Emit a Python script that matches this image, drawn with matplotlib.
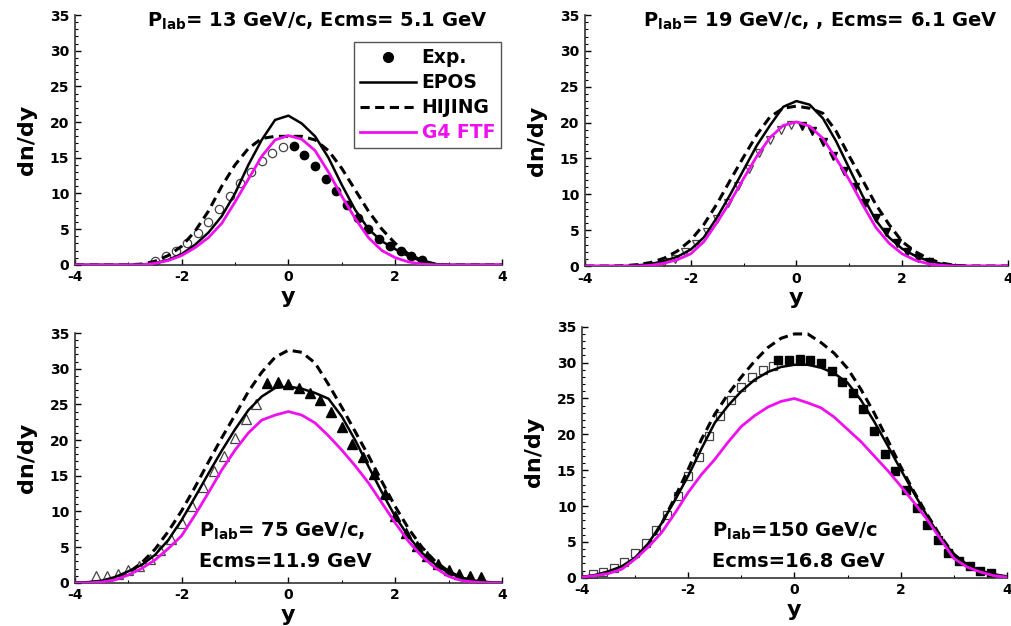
import numpy as np
import matplotlib
matplotlib.use("Agg")
import matplotlib.pyplot as plt
from matplotlib.ticker import MultipleLocator
from matplotlib.lines import Line2D

plt.rcParams['font.family'] = ['DejaVu Sans']
plt.rcParams['font.weight'] = 'bold'
plt.rcParams['mathtext.fontset'] = 'custom'
plt.rcParams['mathtext.rm'] = 'DejaVu Sans:bold'
plt.rcParams['mathtext.bf'] = 'DejaVu Sans:bold'
plt.rcParams['axes.unicode_minus'] = False

### model curves, rapidity grid
y_grid = [-4.0, -3.75, -3.5, -3.25, -3.0, -2.75, -2.5, -2.25, -2.0, -1.75, -1.5, -1.25, -1.0,
          -0.75, -0.5, -0.25, 0.0, 0.25, 0.5, 0.75, 1.0, 1.25, 1.5, 1.75, 2.0, 2.25, 2.5,
          2.75, 3.0, 3.25, 3.5, 3.75, 4.0]

# Plab = 13 GeV/c
epos_13 = [0, 0, 0, 0, 0, 0.05, 0.2, 0.7, 1.5, 2.8, 4.5, 6.8, 10.0, 14.0, 17.5, 20.3, 20.9,
           19.8, 18.0, 15.0, 11.2, 7.7, 5.0, 3.3, 2.2, 1.2, 0.5, 0.1, 0, 0, 0, 0, 0]
hijing_13 = [0, 0, 0, 0, 0, 0.1, 0.5, 1.3, 2.6, 4.7, 7.5, 11.0, 14.0, 16.3, 17.7, 18.0, 18.0,
             18.0, 17.5, 16.0, 13.5, 10.5, 7.5, 5.0, 3.0, 1.5, 0.6, 0.1, 0, 0, 0, 0, 0]
g4_13 = [0, 0, 0, 0, 0, 0, 0.2, 0.6, 1.3, 2.4, 3.8, 5.8, 8.8, 12.0, 15.2, 17.5, 18.1,
         17.6, 16.0, 13.0, 9.6, 6.5, 3.8, 2.0, 1.0, 0.4, 0.1, 0, 0, 0, 0, 0, 0]
exp_13_yneg = [-0.1, -0.3, -0.5, -0.7, -0.9, -1.1, -1.3, -1.5, -1.7, -1.9, -2.1, -2.3, -2.5]
exp_13_neg = [16.5, 15.7, 14.5, 13.0, 11.5, 9.7, 7.8, 6.0, 4.4, 3.1, 2.0, 1.2, 0.6]
exp_13_ypos = [0.1, 0.3, 0.5, 0.7, 0.9, 1.1, 1.3, 1.5, 1.7, 1.9, 2.1, 2.3, 2.5]
exp_13_pos = [16.6, 15.4, 13.9, 12.0, 10.3, 8.4, 6.6, 5.0, 3.6, 2.6, 2.0, 1.3, 0.7]

# Plab = 19 GeV/c
epos_19 = [0, 0, 0, 0, 0.1, 0.3, 0.7, 1.3, 2.3, 4.0, 6.8, 10.0, 13.4, 16.8, 19.6, 22.2, 23.0,
           22.5, 20.6, 17.4, 13.6, 9.8, 6.4, 4.0, 2.4, 1.4, 0.7, 0.3, 0.1, 0, 0, 0, 0]
hijing_19 = [0, 0, 0, 0.05, 0.2, 0.5, 1.1, 2.1, 3.6, 5.8, 8.7, 12.0, 15.2, 18.3, 20.8, 22.0, 22.3,
             22.0, 21.3, 18.8, 15.3, 12.0, 8.6, 5.8, 3.4, 2.0, 1.0, 0.4, 0.1, 0, 0, 0, 0]
g4_19 = [0, 0, 0, 0, 0, 0.1, 0.4, 0.9, 1.7, 3.4, 6.1, 9.0, 12.2, 15.3, 17.9, 19.6, 20.1,
         19.5, 17.8, 15.0, 12.0, 8.6, 5.4, 3.2, 1.7, 0.8, 0.3, 0.1, 0, 0, 0, 0, 0]
exp_19_yneg = [-0.1, -0.3, -0.5, -0.7, -0.9, -1.1, -1.3, -1.5, -1.7, -1.9, -2.1, -2.3, -2.5]
exp_19_neg = [19.6, 19.0, 17.6, 15.7, 13.5, 11.2, 8.8, 6.6, 4.7, 3.1, 1.9, 1.0, 0.5]
exp_19_ypos = [0.1, 0.3, 0.5, 0.7, 0.9, 1.1, 1.3, 1.5, 1.7, 1.9, 2.1, 2.3, 2.5]
exp_19_pos = [19.5, 18.8, 17.3, 15.4, 13.3, 11.0, 8.8, 6.7, 4.8, 3.2, 2.0, 1.1, 0.5]

# Plab = 75 GeV/c
epos_75 = [0, 0.1, 0.3, 0.8, 1.6, 2.5, 3.9, 6.0, 8.8, 12.0, 15.3, 18.5, 21.5, 24.2, 26.1, 27.3, 27.5,
           27.2, 26.6, 25.8, 23.3, 20.0, 16.3, 12.7, 9.3, 6.5, 4.2, 2.6, 1.4, 0.7, 0.3, 0.1, 0]
hijing_75 = [0, 0, 0.1, 0.5, 1.4, 2.8, 4.7, 7.2, 10.1, 13.4, 16.9, 20.3, 23.5, 26.8, 29.5, 31.6, 32.6,
             32.3, 30.8, 27.8, 24.6, 21.2, 17.8, 14.2, 10.7, 7.6, 5.0, 3.0, 1.6, 0.7, 0.2, 0, 0]
g4_75 = [0, 0, 0.1, 0.4, 1.1, 2.0, 3.2, 4.8, 6.6, 9.5, 12.6, 15.8, 18.6, 21.0, 22.8, 23.5, 24.0,
         23.5, 22.4, 20.6, 18.6, 16.4, 14.0, 11.2, 8.4, 5.8, 3.7, 2.1, 0.9, 0.3, 0.1, 0, 0]
exp_75_yneg = [-3.6, -3.4, -3.2, -3.0, -2.8, -2.6, -2.4, -2.2, -2.0, -1.8, -1.6, -1.4, -1.2,
               -1.0, -0.8, -0.6]
exp_75_neg = [0.9, 0.9, 1.3, 1.8, 2.4, 3.3, 4.6, 6.2, 8.4, 10.8, 13.4, 15.6, 17.8, 20.3, 22.9, 25.0]
exp_75_ypos = [-0.4, -0.2, 0.0, 0.2, 0.4, 0.6, 0.8, 1.0, 1.2, 1.4, 1.6, 1.8, 2.0, 2.2, 2.4,
               2.6, 2.8, 3.0, 3.2, 3.4, 3.6]
exp_75_pos = [28.0, 28.2, 27.8, 27.3, 26.6, 25.6, 24.0, 21.8, 19.5, 17.6, 15.2, 12.4, 9.4, 7.0, 5.2,
              3.8, 2.7, 1.8, 1.3, 1.0, 0.8]

# Plab = 150 GeV/c
epos_150 = [0.1, 0.4, 0.9, 1.6, 2.8, 4.8, 7.6, 10.8, 14.2, 18.0, 21.6, 24.0, 26.0, 27.6, 28.7, 29.4, 29.7,
            29.7, 29.3, 28.5, 27.2, 24.8, 21.8, 18.5, 15.1, 11.8, 8.6, 5.6, 3.2, 1.8, 1.0, 0.5, 0.2]
hijing_150 = [0.1, 0.3, 0.7, 1.4, 2.6, 4.6, 7.5, 11.2, 15.1, 19.3, 22.8, 25.6, 28.0, 30.2, 32.1, 33.4, 34.0,
              34.0, 32.8, 31.3, 29.2, 26.3, 23.0, 19.3, 15.5, 12.0, 8.8, 5.8, 3.3, 1.8, 0.9, 0.4, 0.1]
g4_150 = [0.1, 0.3, 0.6, 1.2, 2.6, 4.3, 6.3, 9.0, 11.9, 14.4, 16.5, 18.9, 21.1, 22.6, 23.8, 24.6, 25.0,
          24.4, 23.7, 22.4, 20.7, 19.0, 17.0, 15.0, 12.8, 10.5, 8.1, 5.4, 2.7, 1.5, 0.8, 0.3, 0.1]
exp_150_yneg = [-3.8, -3.6, -3.4, -3.2, -3.0, -2.8, -2.6, -2.4, -2.2, -2.0, -1.8, -1.6, -1.4,
                -1.2, -1.0, -0.8, -0.6, -0.4]
exp_150_neg = [0.5, 0.8, 1.3, 2.2, 3.4, 4.9, 6.7, 8.8, 11.4, 14.2, 16.9, 19.8, 22.6, 24.8, 26.6,
               28.0, 29.0, 29.6]
exp_150_ypos = [-0.3, -0.1, 0.1, 0.3, 0.5, 0.7, 0.9, 1.1, 1.3, 1.5, 1.7, 1.9, 2.1, 2.3, 2.5,
                2.7, 2.9, 3.1, 3.3, 3.5, 3.7]
exp_150_pos = [30.3, 30.4, 30.5, 30.4, 29.9, 28.8, 27.3, 25.8, 23.6, 20.4, 17.2, 14.9, 12.3, 9.8, 7.4,
               5.3, 3.5, 2.3, 1.6, 0.9, 0.6]

MAG = '#ee10ee'

fig = plt.figure(figsize=(10.12, 6.26), dpi=100)
boxes = [[0.074, 0.577, 0.422, 0.399],
         [0.578, 0.575, 0.418, 0.401],
         [0.074, 0.069, 0.422, 0.399],
         [0.575, 0.077, 0.420, 0.401]]

panels = [
    (epos_13, hijing_13, g4_13, exp_13_yneg, exp_13_neg, exp_13_ypos, exp_13_pos, 'o', 6),
    (epos_19, hijing_19, g4_19, exp_19_yneg, exp_19_neg, exp_19_ypos, exp_19_pos, 'v', 5.5),
    (epos_75, hijing_75, g4_75, exp_75_yneg, exp_75_neg, exp_75_ypos, exp_75_pos, '^', 6.5),
    (epos_150, hijing_150, g4_150, exp_150_yneg, exp_150_neg, exp_150_ypos, exp_150_pos, 's', 5.5),
]

axes = []
for box, (ep, hj, g4, yn, en, yp, epv, mk, ms) in zip(boxes, panels):
    ax = fig.add_axes(box)
    axes.append(ax)
    ax.plot(yn, en, mk, mfc='none', mec='#444444', mew=0.9, ms=ms, zorder=2)
    ax.plot(yp, epv, mk, color='black', ms=ms, zorder=2)
    ax.plot(y_grid, ep, '-', color='black', lw=1.8, zorder=3)
    ax.plot(y_grid, hj, color='black', lw=2.2, dashes=(3, 1.8), zorder=3)
    ax.plot(y_grid, g4, '-', color=MAG, lw=2.0, zorder=4)

    ax.set_xlim(-4, 4)
    ax.set_ylim(0, 35)
    ax.xaxis.set_major_locator(MultipleLocator(2))
    ax.xaxis.set_minor_locator(MultipleLocator(1))
    ax.yaxis.set_major_locator(MultipleLocator(5))
    ax.yaxis.set_minor_locator(MultipleLocator(1))
    ax.spines['top'].set_visible(False)
    ax.spines['right'].set_visible(False)
    for s in ('left', 'bottom'):
        ax.spines[s].set_linewidth(1.2)
        ax.spines[s].set_color('#333333')
    ax.tick_params(which='major', direction='in', length=4, width=1, labelsize=10, pad=4)
    ax.tick_params(which='minor', direction='in', length=2, width=0.8)
    for lab in ax.get_xticklabels() + ax.get_yticklabels():
        lab.set_fontweight('bold')
    ax.set_xlabel('y', fontsize=16, fontweight='bold', labelpad=2)
    ax.set_ylabel('dn/dy', fontsize=16, fontweight='bold', labelpad=9)

txt = dict(fontsize=14, fontweight='bold', va='center', ha='left')
axes[0].text(0.17, 0.975, r'P$_{\rm lab}$= 13 GeV/c, Ecms= 5.1 GeV',
             transform=axes[0].transAxes, **txt)
axes[1].text(0.137, 0.975, r'P$_{\rm lab}$= 19 GeV/c, , Ecms= 6.1 GeV',
             transform=axes[1].transAxes, clip_on=False, **txt)
axes[2].text(0.29, 0.205, r'P$_{\rm lab}$= 75 GeV/c,', transform=axes[2].transAxes, **txt)
axes[2].text(0.29, 0.085, 'Ecms=11.9 GeV', transform=axes[2].transAxes, **txt)
axes[3].text(0.305, 0.185, r'P$_{\rm lab}$=150 GeV/c', transform=axes[3].transAxes, **txt)
axes[3].text(0.305, 0.065, 'Ecms=16.8 GeV', transform=axes[3].transAxes, **txt)

handles = [Line2D([], [], ls='none', marker='o', color='black', ms=7),
           Line2D([], [], color='black', lw=1.8),
           Line2D([], [], color='black', lw=2.2, dashes=(3, 1.8)),
           Line2D([], [], color=MAG, lw=2.0)]
leg = axes[0].legend(handles, ['Exp.', 'EPOS', 'HIJING', 'G4 FTF'], loc='upper right',
                     bbox_to_anchor=(0.997, 0.89), borderaxespad=0, fontsize=13.5,
                     handlelength=3.0, handletextpad=0.3, labelspacing=0.32, borderpad=0.3,
                     fancybox=False, framealpha=1, edgecolor='#555555')
leg.get_frame().set_linewidth(1.0)
for t in leg.get_texts():
    t.set_fontweight('bold')
leg.get_texts()[3].set_color(MAG)

plt.savefig('out.png', dpi=100)
